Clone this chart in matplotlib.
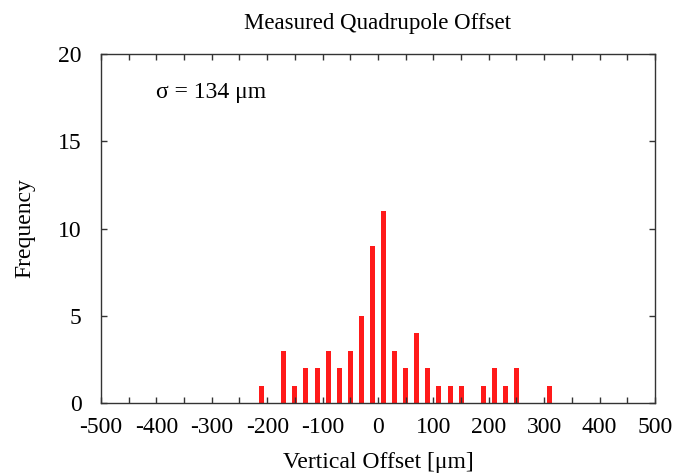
import numpy as np
import matplotlib
matplotlib.use("Agg")
import matplotlib.pyplot as plt
from matplotlib.ticker import MultipleLocator, FormatStrFormatter

plt.rc('font', family='Liberation Serif', size=17)

# bin centres (um) and counts
offsets = [-210, -170, -150, -130, -110, -90, -70, -50, -30, -10, 10, 30,
           50, 70, 90, 110, 130, 150, 190, 210, 230, 250, 310]
counts = [1, 3, 1, 2, 2, 3, 2, 3, 5, 9, 11, 3,
          2, 4, 2, 1, 1, 1, 1, 2, 1, 2, 1]

fig = plt.figure(figsize=(6.78, 4.74), dpi=100)
ax = fig.add_axes([101 / 678, 1 - 403 / 474, 554 / 678, 349 / 474])

ax.bar(offsets, counts, width=9, color='#ff1a1a', edgecolor='none')

ax.set_xlim(-500, 500)
ax.set_ylim(0, 20)
ax.xaxis.set_major_locator(MultipleLocator(100))
ax.xaxis.set_minor_locator(MultipleLocator(50))
ax.yaxis.set_major_locator(MultipleLocator(5))
ax.xaxis.set_major_formatter(FormatStrFormatter('%d'))
ax.tick_params(which='both', direction='in', top=True, right=True,
               length=4, width=1, color='#333333')
ax.tick_params(axis='x', pad=10)
ax.tick_params(axis='y', pad=14)
for s in ax.spines.values():
    s.set_color('#333333')
    s.set_linewidth(1)

ax.text(-400, 17.8, '\u03c3 = 134 \u03bcm', va='center', ha='left')
ax.set_title('Measured Quadrupole Offset', fontsize=16.5, pad=18)
ax.set_xlabel('Vertical Offset [\u03bcm]', labelpad=10)
ax.set_ylabel('Frequency', labelpad=16)

fig.savefig('out.png', dpi=100)
